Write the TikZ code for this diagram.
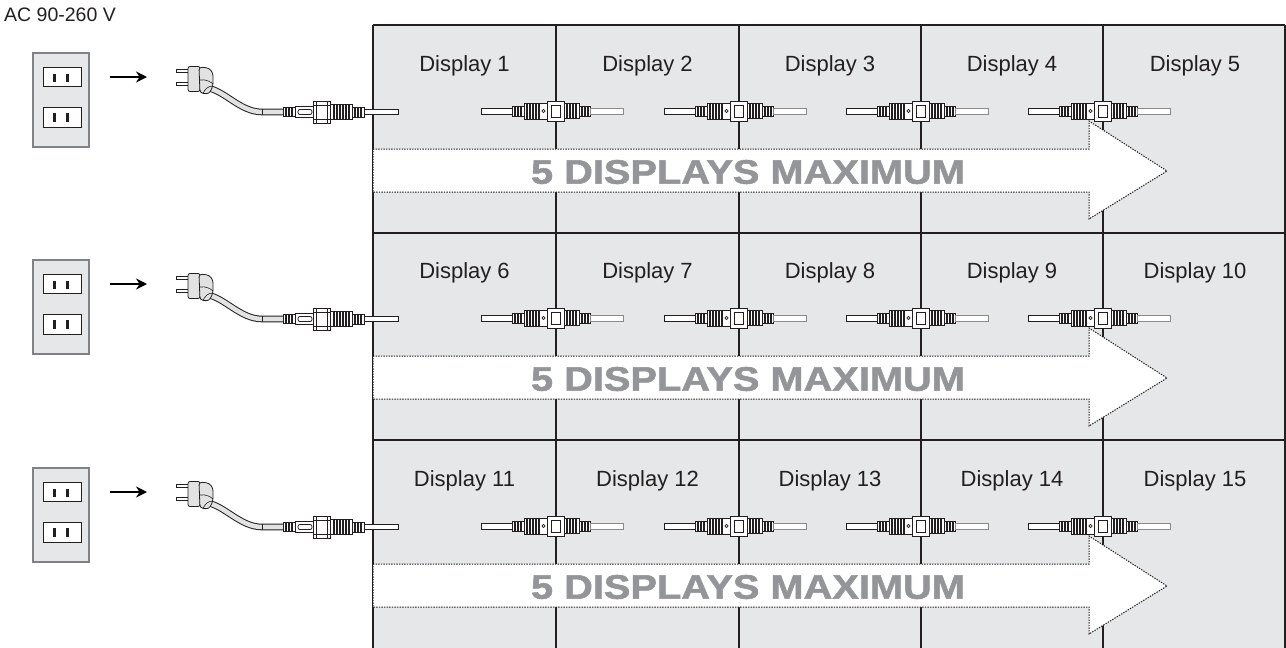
\documentclass[tikz,border=0pt]{standalone}
\usepackage{fontspec}
\setmainfont{Liberation Sans}
\newfontface\bigfont[FakeStretch=1.17,FakeBold=1.6]{Liberation Sans Bold}
\usetikzlibrary{arrows.meta}
\definecolor{gridfill}{HTML}{E6E7E8}
\definecolor{dark}{HTML}{231F20}
\definecolor{textgray}{HTML}{939598}
\definecolor{plugfill}{HTML}{E2E2E2}
\definecolor{cablegray}{HTML}{8A8A8A}
\definecolor{platefill}{HTML}{E6E7E8}
\definecolor{plateedge}{HTML}{808285}
\tikzset{
  gridline/.style={draw=dark, line width=2.6pt},
  bigarrow/.style={fill=white, draw=dark, line width=1pt, dash pattern=on 1.4pt off 1.2pt},
  arrowtext/.style={text=textgray, font=\bigfont\fontsize{34}{34}\selectfont, inner sep=0pt},
  displabel/.style={text=dark, font=\fontsize{22}{22}\selectfont, inner sep=0pt},
  part/.style={draw=dark, fill=white, line width=0.8pt},
  rib/.style={draw=dark, line width=1.1pt},
  cablel/.style={draw=dark, fill=white, line width=0.8pt},
  cabler/.style={draw=cablegray, fill=white, line width=0.8pt},
  plate/.style={draw=plateedge, fill=platefill, line width=1.2pt},
  socket/.style={draw=dark, fill=white, line width=0.9pt},
  slit/.style={fill=dark},
  plugarrow/.style={draw=black, line width=1.6pt, -{Stealth[length=11pt,width=11pt]}},
  linkconn/.pic={
    \draw[cablel] (-75,-3) rectangle (-44,3);
    \draw[part] (-44,-5) rectangle (-32,5);
    \foreach \i in {-41,-38,-35} \draw[rib] (\i,-5) -- (\i,5);
    \draw[part] (-32,-8) rectangle (-9,8);
    \foreach \i in {-29,-26,-23,-20,-17} \draw[rib] (\i,-8) -- (\i,8);
    \draw[dark, line width=0.6pt] (-12.5,0) circle (1.6);
    \draw[part] (-9,-10) rectangle (8,10);
    \draw[part] (-5,-6) rectangle (4,6);
    \draw[part] (8,-7.5) rectangle (23,7.5);
    \foreach \i in {11,14,17,20} \draw[rib] (\i,-7.5) -- (\i,7.5);
    \draw[part] (23,-5) rectangle (34,5);
    \foreach \i in {26,29,32} \draw[rib] (\i,-5) -- (\i,5);
    \draw[cabler] (34,-3) rectangle (67,3);
  },
  feedconn/.pic={
    \draw[part] (0,-4.5) rectangle (12,4.5);
    \foreach \i in {3,6,9} \draw[rib] (\i,-4.5) -- (\i,4.5);
    \draw[part] (12,-5.5) rectangle (30,5.5);
    \draw[part, rounded corners=2pt] (15,-2.5) rectangle (29,2.5);
    \draw[part] (30,-11) rectangle (47,11);
    \draw[dark, line width=0.6pt] (33,-11) -- (33,11) (44,-11) -- (44,11) (30,-7) -- (47,-7) (30,7) -- (47,7);
    \draw[part] (47,-7.5) rectangle (69,7.5);
    \foreach \i in {51,54,57,60,63,66} \draw[rib] (\i,-7.5) -- (\i,7.5);
    \draw[part] (69,-5) rectangle (81,5);
    \foreach \i in {72,75,78} \draw[rib] (\i,-5) -- (\i,5);
    \draw[cablel] (81,-2.7) rectangle (115,2.7);
  },
  plugpic/.pic={
    \draw[part] (176,69) rectangle (189,72.5);
    \draw[part] (176,82) rectangle (189,85.5);
    \draw[dark, line width=6.6pt] (207,88) .. controls (224,90) and (240,112) .. (262,112) -- (284,112);
    \draw[plugfill, line width=4.6pt] (207,88) .. controls (224,90) and (240,112) .. (262,112) -- (284,112);
    \draw[dark, line width=0.6pt] (262,108.7) -- (262,115.3);
    \draw[draw=dark, fill=plugfill, line width=0.8pt, rounded corners=2pt] (188,66.5) rectangle (200,91.5);
    \draw[draw=dark, fill=plugfill, line width=0.8pt, rounded corners=3pt] (199,67) -- (209,68) -- (213,73) -- (213,86) -- (209,94) -- (200,93) -- cycle;
    \draw[dark, line width=0.6pt] (200,80) .. controls (206,79) and (211,82) .. (213,84);
    \draw[dark, line width=0.6pt] (203,93.5) .. controls (205,89) and (208,86) .. (213,86);
  },
}
\begin{document}
\begin{tikzpicture}[x=1pt, y=-1pt]
\useasboundingbox (0,0) rectangle (1286,648);
\fill[gridfill] (373,25) rectangle (1285,648);
\draw[gridline] (373,25) -- (1285,25);
\draw[gridline] (373,25) -- (373,648);
\draw[draw=dark, line width=1.6pt] (1285,25) -- (1285,648);
\draw[gridline] (373,233) -- (1285,233);
\draw[gridline] (373,440) -- (1285,440);
\foreach \x in {556,739,921,1103} \draw[gridline] (\x,25) -- (\x,648);

\node[anchor=west, text=dark, font=\fontsize{19.5}{19.5}\selectfont, inner sep=0pt] (ac) at (4,15) {AC 90-260 V};

\foreach \r/\dy in {0/0,1/207,2/415} {
  \begin{scope}[yshift=-\dy pt]
    \draw[bigarrow] (373,149) -- (1089,149) -- (1089,121) -- (1167,171) -- (1089,219) -- (1089,192) -- (373,192) -- cycle;
    \node[arrowtext] (t\r) at (748,172) {5 DISPLAYS MAXIMUM};
    \foreach \c/\cx in {1/464.5,2/647.5,3/830,4/1012,5/1195} {
      \pgfmathtruncatemacro{\n}{\r*5+\c}
      \node[displabel] (d\n) at (\cx,66) {Display \n};
    }
    \node[plate, minimum width=56pt, minimum height=94pt, inner sep=0pt] (o\r) at (61,100) {};
    \node[socket, minimum width=38pt, minimum height=19pt, inner sep=0pt] (sa\r) at (62,76.5) {};
    \node[socket, minimum width=38pt, minimum height=20pt, inner sep=0pt] (sb\r) at (62,117) {};
    \fill[slit] (53,73.5) rectangle (55.5,82);
    \fill[slit] (65.5,73.5) rectangle (69,82);
    \fill[slit] (53,113) rectangle (55.5,121.5);
    \fill[slit] (65.5,113) rectangle (69,121.5);
    \coordinate (as\r) at (110,77);
    \coordinate (ae\r) at (147,77);
    \draw[plugarrow] (as\r) -- (ae\r);
    \pic {plugpic};
    \pic at (283,112) {feedconn};
    \foreach \x in {556,739,921,1103} \pic at (\x,111) {linkconn};
  \end{scope}
}
\end{tikzpicture}
\end{document}
